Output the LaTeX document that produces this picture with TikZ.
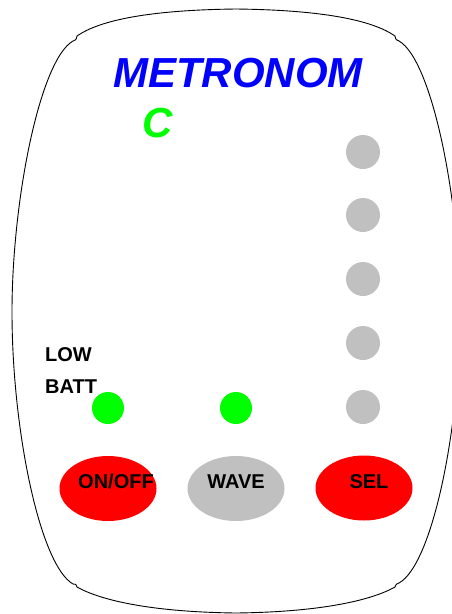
\documentclass[tikz,border=0pt]{standalone}
\usepackage{fontspec}
\setmainfont{Liberation Sans}
\usetikzlibrary{shapes.geometric}
\definecolor{ledgray}{HTML}{C0C0C0}
\definecolor{ledgreen}{HTML}{00FF00}
\definecolor{btnred}{HTML}{FF0000}
\definecolor{titleblue}{HTML}{0000FF}
\tikzset{
  outline/.style={draw=black, line width=0.9pt, line join=round},
  grayled/.style={circle, fill=ledgray, minimum size=34pt, inner sep=0pt},
  greenled/.style={circle, fill=ledgreen, minimum size=32pt, inner sep=0pt},
  button/.style={ellipse, minimum width=97pt, minimum height=65pt, inner sep=0pt},
  lbl/.style={anchor=base, inner sep=0pt, font=\fontsize{20}{20}\selectfont\bfseries},
  big/.style={anchor=base, inner sep=0pt, font=\fontsize{42}{42}\selectfont\bfseries\itshape}
}
\begin{document}
\begin{tikzpicture}[x=1pt, y=-1pt]
\useasboundingbox (0,0) rectangle (452,614);
\fill[white] (0,0) rectangle (452,614);
\clip (0,0) rectangle (452,614);
% case outline
\draw[outline] (77,36) .. controls (100,20) and (150,10) .. (236,9)
  .. controls (322,10) and (372,20) .. (395,36)
  .. controls (396,40) .. (399,41)
  .. controls (432,60) and (460,200) .. (460,312)
  .. controls (460,430) and (432,565) .. (399,583)
  .. controls (396,584) .. (395,587)
  .. controls (372,600) and (322,612) .. (236,613)
  .. controls (150,612) and (100,600) .. (77,587)
  .. controls (76,584) .. (73,584)
  .. controls (40,565) and (12,430) .. (12,312)
  .. controls (12,200) and (40,60) .. (73,41)
  .. controls (76,40) .. cycle;
% title
\node[big, text=titleblue] (title) at (238,87) {METRONOM};
\node[big, text=ledgreen] (c) at (158,137) {C};
% gray LEDs
\node[grayled] (g1) at (363,152) {};
\node[grayled] (g2) at (363,215) {};
\node[grayled] (g3) at (363,279) {};
\node[grayled] (g4) at (363,343) {};
\node[grayled] (g5) at (363,407) {};
% green LEDs
\node[greenled] (batt) at (108,408) {};
\node[greenled] (wave) at (236,408) {};
% low batt label
\node[lbl, anchor=base west] (low) at (45,361) {LOW};
\node[lbl, anchor=base west] (battlbl) at (45,393) {BATT};
% buttons
\node[button, fill=btnred] (onoff) at (108,488.5) {};
\node[button, fill=ledgray] (wavebtn) at (236,488.5) {};
\node[button, fill=btnred] (sel) at (364,488) {};
\node[lbl] (onofft) at (116,488) {ON/OFF};
\node[lbl] (wavet) at (236,488) {WAVE};
\node[lbl] (selt) at (369,488) {SEL};
\end{tikzpicture}
\end{document}
